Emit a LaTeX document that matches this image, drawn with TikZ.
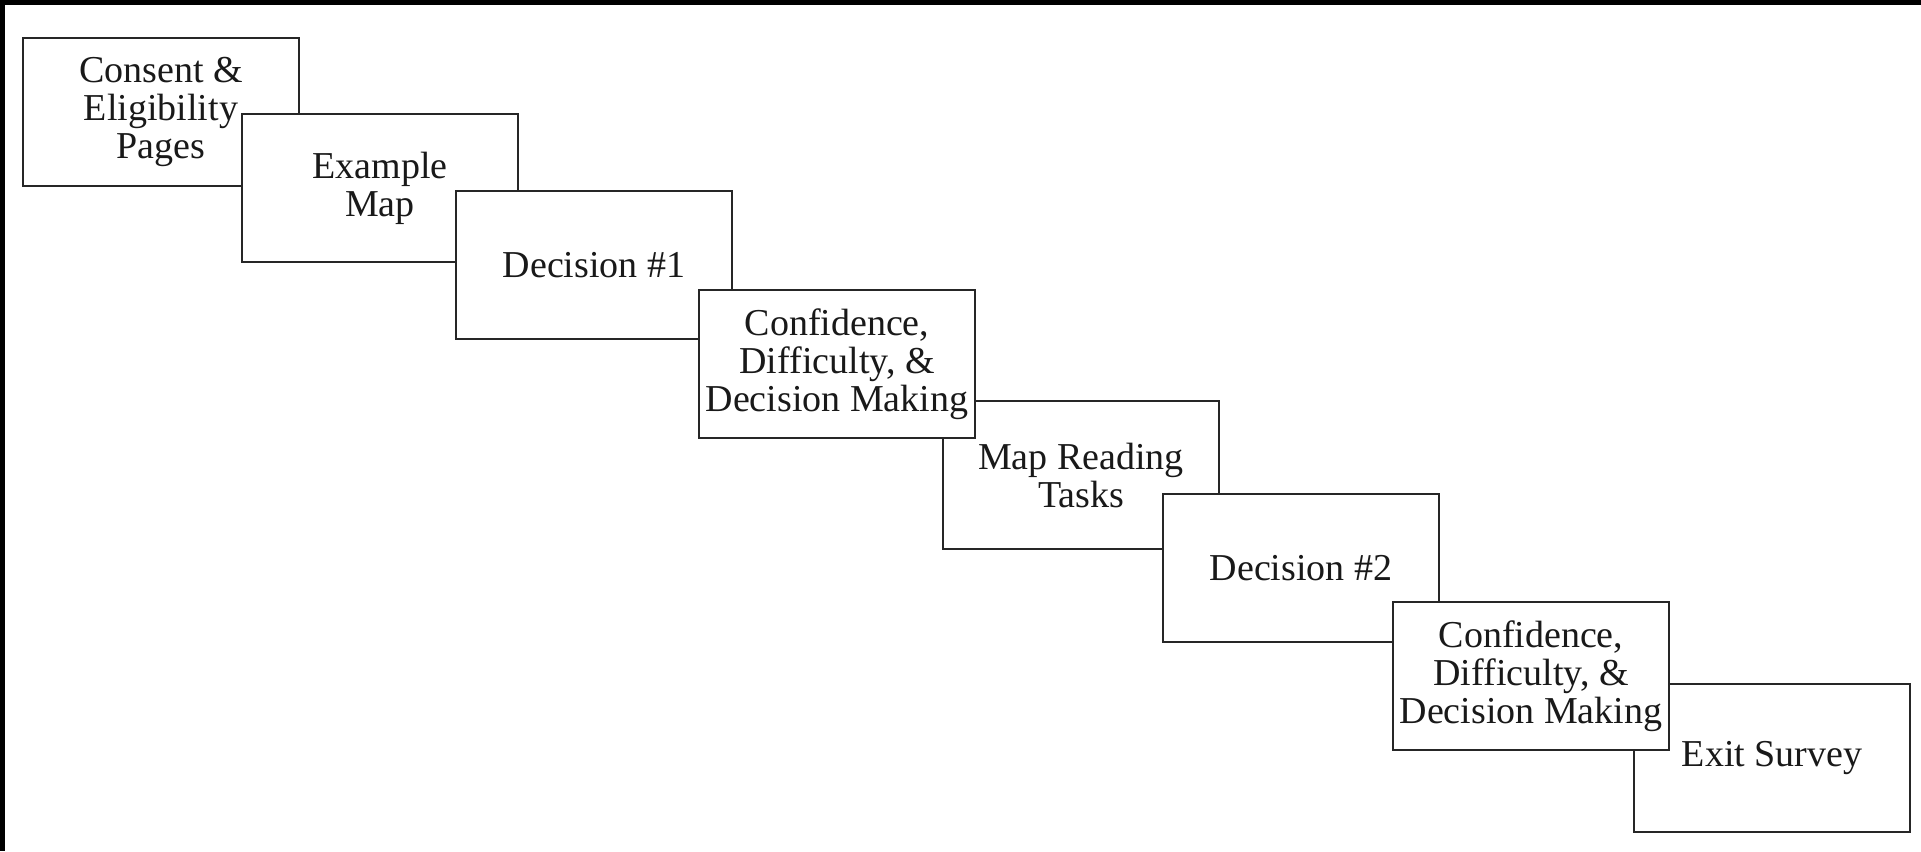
\documentclass[tikz,border=0pt]{standalone}
\usepackage{fontspec}
\setmainfont{Liberation Serif}

\begin{document}
\begin{tikzpicture}[x=0.5pt, y=-0.5pt,
    stage/.style={rectangle, draw=black!85, fill=white, line width=1.4pt, minimum width=138pt, minimum height=74pt, inner sep=0pt, align=center, text=black!90, font=\fontsize{19}{19}\selectfont},
    frame/.style={fill=black}
]
\useasboundingbox (0,0) rectangle (1921,851);

% scan edge
\fill[frame] (0,0) rectangle (1921,5);
\fill[frame] (0,0) rectangle (5,851);

% stages, drawn back to front
\foreach \n/\x/\y/\lab in {
    consent/161/112/{Consent \&\\Eligibility\\Pages},
    exmap/380/188/{Example\\Map},
    decone/594/265/{Decision \#1},
    mapread/1081/475/{Map Reading\\Tasks},
    confone/837/364/{Confidence,\\Difficulty, \&\\Decision Making},
    dectwo/1301/568/{Decision \#2},
    exit/1772/758/{Exit Survey},
    conftwo/1531/676/{Confidence,\\Difficulty, \&\\Decision Making}} {
    \node[stage] (\n) at (\x, \y) {\lab};
}
\end{tikzpicture}
\end{document}
